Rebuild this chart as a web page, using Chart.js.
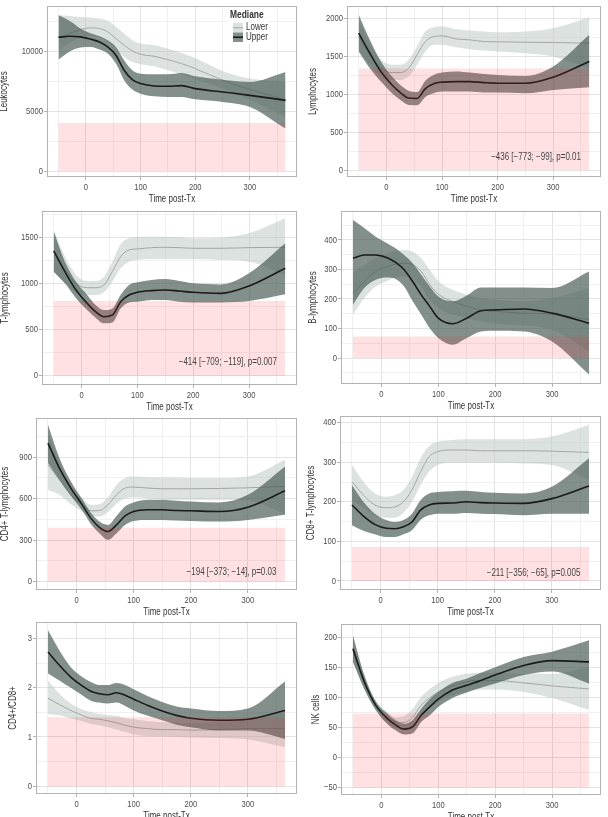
<!DOCTYPE html>
<html><head><meta charset="utf-8">
<script src="https://cdn.jsdelivr.net/npm/chart.js@4.4.1/dist/chart.umd.min.js"></script>
<style>
html,body{margin:0;padding:0;background:#fff;}
body{width:608px;height:817px;position:relative;overflow:hidden;}
.pn{position:absolute;}
</style></head><body>
<script>
// ---------- DATA ----------
const days = [-50,-30,-10,10,25,40,55,70,85,100,125,150,175,200,250,300,365];
const xTickLabels = [0,100,200,300];
const seriesNames = ['Lower','Upper'];

// Leukocytes
const leukoLower   = [11140,11480,11810,11950,11900,11620,11060,10500,10030,9750,9580,9300,8970,8550,7580,6800,5960];
const leukoLowerLo = [10080,10640,11140,11260,11140,10780,10140,9530,9110,8920,8750,8410,8080,7660,6880,5960,4510];
const leukoLowerHi = [13000,12950,12870,12820,12730,12540,12040,11480,10920,10640,10500,10220,9860,9440,8360,7720,7440];
const leukoUpper   = [11170,11250,11200,11000,10780,10360,9670,8410,7630,7300,7100,7080,7130,6880,6600,6320,5900];
const leukoUpperLo = [9300,9950,10310,10360,10140,9810,8970,7580,6800,6460,6240,6180,6180,5990,5770,5350,3540];
const leukoUpperHi = [13000,12540,11900,11480,11260,10920,10360,9250,8410,8130,8080,8080,8190,7910,7630,7440,8270];
const leukoRef = [0,4000];
const leukoTicks = [0,5000,10000];

// Lymphocytes
const lymphLower   = [1762,1520,1344,1286,1286,1344,1520,1696,1762,1771,1731,1718,1696,1692,1687,1683,1674];
const lymphLowerLo = [1586,1388,1233,1189,1189,1233,1388,1564,1652,1652,1621,1595,1577,1564,1542,1498,1344];
const lymphLowerHi = [1982,1674,1454,1388,1388,1454,1630,1828,1885,1894,1859,1841,1828,1819,1828,1872,2017];
const lymphUpper   = [1806,1542,1300,1123,1022,950,945,1075,1140,1160,1167,1167,1154,1145,1145,1225,1432];
const lymphUpperLo = [1564,1344,1167,1013,925,859,855,965,1013,1035,1035,1035,1022,1022,1013,1057,1092];
const lymphUpperHi = [2048,1718,1432,1233,1123,1048,1030,1180,1255,1286,1300,1286,1269,1255,1242,1366,1784];
const lymphRef = [0,1340];
const lymphTicks = [0,500,1000,1500,2000];
const lymphNote = '\u2212436 [\u2212773; \u221299], p=0.01';

// T-lymphocytes
const tLower   = [1345,1146,1001,954,954,983,1128,1291,1363,1374,1388,1392,1388,1381,1381,1388,1392];
const tLowerLo = [1128,1001,904,875,875,904,1019,1164,1236,1254,1265,1265,1265,1265,1254,1236,1092];
const tLowerHi = [1580,1291,1092,1027,1027,1074,1236,1424,1489,1504,1507,1507,1500,1489,1496,1544,1706];
const tUpper   = [1352,1128,929,784,694,640,658,803,875,904,922,929,918,904,893,972,1164];
const tUpperLo = [1128,1001,839,712,629,568,578,730,795,803,821,821,803,795,795,810,882];
const tUpperHi = [1562,1236,1019,875,766,712,730,875,983,1012,1037,1048,1027,1001,990,1110,1435];
const tRef = [0,810];
const tTicks = [0,500,1000,1500];
const tNote = '\u2212414 [\u2212709; \u2212119], p=0.007';

// B-lymphocytes
const bLower   = [220,259,293,310,318,321,316,293,248,216,192,175,163,158,152,149,130];
const bLowerLo = [147,203,242,261,273,276,268,242,197,169,147,135,124,118,110,96,23];
const bLowerHi = [287,316,340,355,363,366,360,338,299,261,231,214,203,197,192,203,237];
const bUpper   = [338,349,349,340,324,299,259,214,175,135,116,135,160,163,166,152,118];
const bUpperLo = [180,237,265,273,268,242,192,147,101,68,45,68,90,92,90,56,-56];
const bUpperHi = [468,440,411,389,372,349,321,282,242,208,192,212,239,239,239,237,293];
const bRef = [0,73];
const bTicks = [0,100,200,300,400];

// CD4+ T-lymphocytes
const cd4Lower   = [845,736,627,555,512,514,555,627,676,683,676,671,671,671,673,678,688];
const cd4LowerLo = [664,627,560,507,471,471,502,562,603,610,603,596,591,591,591,586,490];
const cd4LowerHi = [1074,857,700,603,555,560,610,700,748,760,755,753,753,748,748,760,881];
const cd4Upper   = [1001,820,676,555,459,393,362,410,475,507,519,519,514,512,507,538,656];
const cd4UpperLo = [857,736,620,514,417,350,302,350,410,439,446,446,442,439,434,446,483];
const cd4UpperHi = [1134,893,724,596,500,434,410,475,543,572,591,591,584,579,572,627,832];
const cd4Ref = [0,390];
const cd4Ticks = [0,300,600,900];
const cd4Note = '\u2212194 [\u2212373; \u221214], p=0.03';

// CD8+ T-lymphocytes
const cd8Lower   = [251,217,192,185,187,200,230,276,314,327,331,331,329,329,329,328,325];
const cd8LowerLo = [205,185,164,160,160,172,200,242,276,293,299,299,299,299,297,293,255];
const cd8LowerHi = [293,251,221,213,217,230,263,310,341,352,356,358,358,358,358,365,394];
const cd8Upper   = [192,164,143,133,132,137,149,179,192,196,197,200,198,197,196,208,240];
const cd8UpperLo = [141,127,118,111,111,118,128,154,166,170,170,172,170,169,166,170,170];
const cd8UpperHi = [242,200,170,154,149,154,170,204,221,225,227,228,225,223,221,238,310];
const cd8Ref = [0,86];
const cd8Ticks = [0,100,200,300,400];
const cd8Note = '\u2212211 [\u2212356; \u221265], p=0.005';

// CD4+/CD8+
const ratioLower   = [1.79,1.66,1.54,1.44,1.38,1.36,1.33,1.29,1.24,1.20,1.17,1.15,1.15,1.14,1.15,1.17,1.17];
const ratioLowerLo = [1.47,1.44,1.38,1.32,1.27,1.24,1.20,1.15,1.10,1.05,1.02,1.01,1.00,0.99,0.98,0.95,0.79];
const ratioLowerHi = [2.15,1.88,1.68,1.56,1.51,1.47,1.45,1.43,1.38,1.36,1.32,1.30,1.29,1.28,1.30,1.37,1.51];
const ratioUpper   = [2.73,2.46,2.22,2.04,1.93,1.88,1.86,1.90,1.85,1.77,1.64,1.53,1.44,1.38,1.34,1.36,1.54];
const ratioUpperLo = [2.29,2.15,2.00,1.85,1.74,1.70,1.68,1.70,1.63,1.54,1.43,1.34,1.25,1.20,1.13,1.13,0.96];
const ratioUpperHi = [3.17,2.76,2.42,2.22,2.12,2.06,2.06,2.10,2.06,1.97,1.83,1.71,1.62,1.58,1.53,1.58,2.13];
const ratioRef = [0,1.4];
const ratioTicks = [0,1,2,3];

// NK cells
const nkLower   = [178,123,87,67,59,58,67,87,99,109,119,126,128,128,124,119,114];
const nkLowerLo = [159,112,79,58,49,48,54,73,84,93,103,110,113,113,109,99,79];
const nkLowerHi = [197,134,95,76,67,69,81,101,114,124,134,139,141,141,139,139,150];
const nkUpper   = [181,126,87,65,54,47,51,70,84,97,112,120,128,137,153,161,159];
const nkUpperLo = [159,114,79,56,45,38,40,59,70,84,99,108,116,123,137,143,123];
const nkUpperHi = [203,137,93,73,62,56,62,81,97,109,124,131,141,150,167,176,195];
const nkRef = [-50,73];
const nkTicks = [-50,0,50,100,150,200];

// ---------- STYLE / LAYOUT ----------
const FONT = "'Liberation Sans',Arimo,Arial,sans-serif";
const LIGHT = 'rgba(185,198,192,0.5)';
const DARK = 'rgba(72,90,84,0.68)';
const PINK = 'rgba(255,20,50,0.13)';
const NOTE_X = 350;
const CONDENSE = 0.8;
const FS = 9.5;

// draw all canvas text horizontally condensed (narrow face look), scaled about its anchor
(function(){
  const orig = CanvasRenderingContext2D.prototype.fillText;
  CanvasRenderingContext2D.prototype.fillText = function(text, x, y, maxWidth){
    this.save();
    this.translate(x, y);
    this.scale(CONDENSE, 1);
    if (maxWidth === undefined) orig.call(this, text, 0, 0);
    else orig.call(this, text, 0, 0, maxWidth / CONDENSE);
    this.restore();
  };
})();

const panels = [
  {title:'Leukocytes', L:47,R:297,T:6,B:177, tl:4, ymin:-500,ymax:13780, ticks:leukoTicks, d:[leukoLower,leukoLowerLo,leukoLowerHi,leukoUpper,leukoUpperLo,leukoUpperHi], ref:leukoRef, legend:true},
  {title:'Lymphocytes', L:347,R:601,T:6,B:177, tl:313, ymin:-92,ymax:2165, ticks:lymphTicks, d:[lymphLower,lymphLowerLo,lymphLowerHi,lymphUpper,lymphUpperLo,lymphUpperHi], ref:lymphRef, note:lymphNote, noteY:172},
  {title:'T-lymphocytes', L:42,R:297,T:211,B:385, tl:5, ymin:-100,ymax:1785, ticks:tTicks, d:[tLower,tLowerLo,tLowerHi,tUpper,tUpperLo,tUpperHi], ref:tRef, note:tNote, noteY:150},
  {title:'B-lymphocytes', L:341,R:601,T:211,B:384, tl:313, ymin:-88,ymax:498, ticks:bTicks, d:[bLower,bLowerLo,bLowerHi,bUpper,bUpperLo,bUpperHi], ref:bRef},
  {title:'CD4+ T-lymphocytes', L:36,R:297,T:418,B:590, tl:5, ymin:-60,ymax:1182, ticks:cd4Ticks, d:[cd4Lower,cd4LowerLo,cd4LowerHi,cd4Upper,cd4UpperLo,cd4UpperHi], ref:cd4Ref, note:cd4Note, noteY:70},
  {title:'CD8+ T-lymphocytes', L:340,R:601,T:416,B:590, tl:311, ymin:-23,ymax:417, ticks:cd8Ticks, d:[cd8Lower,cd8LowerLo,cd8LowerHi,cd8Upper,cd8UpperLo,cd8UpperHi], ref:cd8Ref, note:cd8Note, noteY:20},
  {title:'CD4+/CD8+', L:36,R:297,T:622,B:794, tl:13, ymin:-0.16,ymax:3.34, ticks:ratioTicks, d:[ratioLower,ratioLowerLo,ratioLowerHi,ratioUpper,ratioUpperLo,ratioUpperHi], ref:ratioRef},
  {title:'NK cells', L:341,R:601,T:624,B:795, tl:316, ymin:-62.6,ymax:222, ticks:nkTicks, d:[nkLower,nkLowerLo,nkLowerHi,nkUpper,nkUpperLo,nkUpperHi], ref:nkRef}
];

const fmt = v => v < 0 ? '\u2212' + Math.abs(v) : String(v);
const xy = arr => days.map((d,i)=>({x:d,y:arr[i]}));
function withMinors(major, lo, hi){
  const step = major[1]-major[0];
  const out = [];
  for (let v = major[0]-step/2; v <= major[major.length-1]+step/2+1e-9; v += step/2) {
    const r = Math.round(v*1000)/1000;
    if (r >= lo && r <= hi) out.push(r);
  }
  return out;
}
const isMajor = (list, v) => list.some(m => Math.abs(m - v) < 1e-6);

const boxPlugin = {
  id:'box',
  afterDatasetsDraw(chart){
    const a = chart.chartArea, c = chart.ctx;
    c.save(); c.strokeStyle = '#b3b3b3'; c.lineWidth = 1;
    c.strokeRect(Math.round(a.left)+0.5, Math.round(a.top)+0.5, Math.round(a.right-a.left)-1, Math.round(a.bottom-a.top)-1);
    c.restore();
  }
};

function makePanel(p){
  const PADT = 8, XH = 28, PADR = 4;
  const cl = p.tl - 6, ct = p.T - PADT;
  const w = p.R + PADR - cl, h = p.B + XH - ct;
  const div = document.createElement('div');
  div.className = 'pn';
  Object.assign(div.style, {left:cl+'px', top:ct+'px', width:w+'px', height:h+'px'});
  const cv = document.createElement('canvas');
  div.appendChild(cv); document.body.appendChild(div);
  const yW = p.L - cl;
  const allX = withMinors([-100,0,100,200,300,400], -71, 386);
  const allY = withMinors(p.ticks, p.ymin, p.ymax);
  const tickFont = {family:FONT, size:FS};
  const titleFont = {family:FONT, size:FS + 0.5};
  const gridColor = (list) => ctx => (ctx.tick && isMajor(list, ctx.tick.value)) ? '#e3e3e3' : '#f0f0f0';
  const tickCol = (list) => ctx => (ctx.tick && isMajor(list, ctx.tick.value)) ? '#b3b3b3' : 'rgba(0,0,0,0)';
  const [lo, loLo, loHi, up, upLo, upHi] = p.d;
  const none = 'rgba(0,0,0,0)';
  const extra = {
    id:'extra',
    afterDatasetsDraw(chart){
      const c = chart.ctx;
      c.save();
      if (p.note) {
        c.font = (FS + 0.5) + 'px ' + FONT; c.fillStyle = '#444'; c.textAlign = 'right'; c.textBaseline = 'middle';
        c.fillText(p.note, chart.scales.x.getPixelForValue(NOTE_X), chart.scales.y.getPixelForValue(p.noteY));
      }
      if (p.legend) {
        const ox = -cl, oy = -ct;
        c.fillStyle = '#fff'; c.fillRect(228+ox, 7+oy, 40, 37);
        c.fillStyle = '#333'; c.textAlign = 'left'; c.textBaseline = 'middle';
        c.font = 'bold 10.5px ' + FONT; c.fillText('Mediane', 230+ox, 15+oy);
        c.fillStyle = '#fff'; c.fillRect(233+ox, 23+oy, 10, 19);
        c.fillStyle = LIGHT; c.fillRect(233+ox, 23+oy, 10, 9.5);
        c.fillStyle = DARK; c.fillRect(233+ox, 32.5+oy, 10, 9.5);
        c.strokeStyle = '#a3a6a5'; c.lineWidth = 1;
        c.beginPath(); c.moveTo(233+ox, 27.75+oy); c.lineTo(243+ox, 27.75+oy); c.stroke();
        c.strokeStyle = '#1b1b1b'; c.lineWidth = 1.6;
        c.beginPath(); c.moveTo(233+ox, 37.25+oy); c.lineTo(243+ox, 37.25+oy); c.stroke();
        c.fillStyle = '#333'; c.font = '10px ' + FONT;
        c.fillText(seriesNames[0], 246+ox, 27.5+oy);
        c.fillText(seriesNames[1], 246+ox, 37.5+oy);
      }
      c.restore();
    }
  };
  new Chart(cv, {
    type:'line',
    data:{datasets:[
      {data:xy(loLo), borderColor:none, borderWidth:0, fill:false, order:11},
      {data:xy(loHi), borderColor:none, borderWidth:0, fill:0, backgroundColor:LIGHT, order:10},
      {data:xy(lo), borderColor:'#a3a6a5', borderWidth:1, fill:false, order:9},
      {data:xy(upLo), borderColor:none, borderWidth:0, fill:false, order:8},
      {data:xy(upHi), borderColor:none, borderWidth:0, fill:3, backgroundColor:DARK, order:7},
      {data:xy(up), borderColor:'#1b1b1b', borderWidth:1.6, fill:false, order:6},
      {data:[{x:days[0],y:p.ref[1]},{x:days[days.length-1],y:p.ref[1]}], borderColor:none, borderWidth:0, fill:{value:p.ref[0]}, backgroundColor:PINK, order:5}
    ]},
    options:{
      responsive:true, maintainAspectRatio:false, animation:false, devicePixelRatio:1,
      layout:{padding:{left:0, right:PADR, top:PADT, bottom:0}},
      plugins:{legend:{display:false}, tooltip:{enabled:false}},
      elements:{point:{radius:0, hoverRadius:0}, line:{cubicInterpolationMode:'monotone'}},
      events:[],
      scales:{
        x:{type:'linear', min:-71, max:386,
          afterBuildTicks: ax => { ax.ticks = allX.map(v=>({value:v})); },
          ticks:{autoSkip:false, maxRotation:0, padding:2, font:tickFont, color:'#4d4d4d',
            callback: v => isMajor(xTickLabels, v) ? fmt(v) : ''},
          grid:{color:gridColor(xTickLabels), lineWidth:1, tickLength:3, tickColor:tickCol(xTickLabels), tickWidth:1},
          border:{display:false},
          title:{display:true, text:'Time post-Tx', font:titleFont, color:'#333', padding:0},
          afterFit: s => { s.height = XH; }
        },
        y:{type:'linear', min:p.ymin, max:p.ymax,
          afterBuildTicks: ax => { ax.ticks = allY.map(v=>({value:v})); },
          ticks:{autoSkip:false, padding:1, font:tickFont, color:'#4d4d4d',
            callback: v => isMajor(p.ticks, v) ? fmt(v) : ''},
          grid:{color:gridColor(p.ticks), lineWidth:1, tickLength:3, tickColor:tickCol(p.ticks), tickWidth:1},
          border:{display:false},
          title:{display:true, text:p.title, font:titleFont, color:'#333', padding:0},
          afterFit: s => { s.width = yW; }
        }
      }
    },
    plugins:[boxPlugin, extra]
  });
}
panels.forEach(makePanel);
</script>
</body></html>
